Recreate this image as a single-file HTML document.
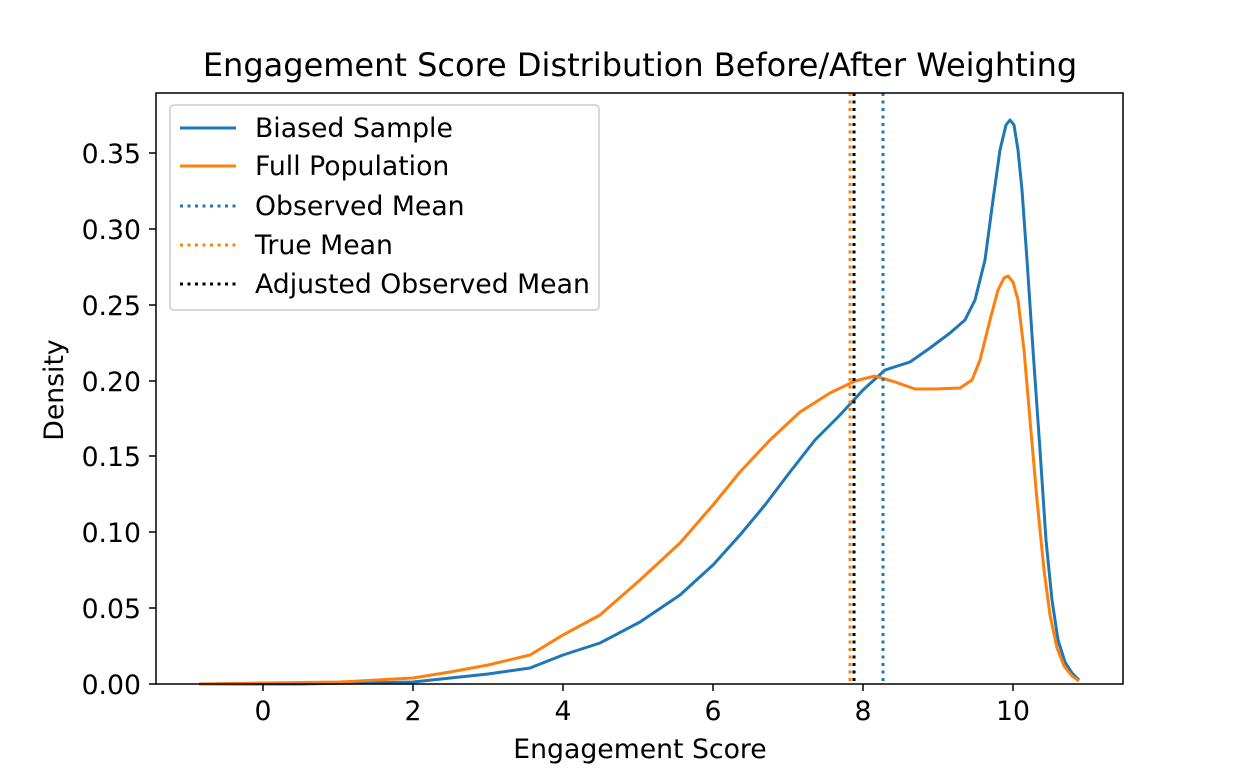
<!DOCTYPE html>
<html><head><meta charset="utf-8"><style>
body{margin:0;background:#fff;}
text{font-family:"DejaVu Sans","Liberation Sans",sans-serif;fill:#000;}
</style></head><body>
<svg width="1248" height="768" viewBox="0 0 1248 768" xmlns="http://www.w3.org/2000/svg">
<rect width="1248" height="768" fill="#fff"/>
<text x="640" y="76" font-size="32" text-anchor="middle">Engagement Score Distribution Before/After Weighting</text>
<g fill="none" stroke-width="3" stroke-linejoin="round">
<polyline stroke="#1f77b4" points="199,684 300,684 413,682 488,674 530,668 563,655 600,643 640,622 680,595 713,565 740,535 765,505 790,472 815,440 840,415 863,390 885,370 910,362 930,348 950,333 965,320 975,300 985,260 993,200 1000,150 1006,125 1010,120 1014,125 1018,150 1022,190 1027,260 1033,350 1040,450 1046,540 1052,600 1058,640 1065,662 1072,673 1079,680"/>
<polyline stroke="#ff7f0e" points="199,684 263,683 340,682 413,678 450,672 488,665 530,655 563,635 600,615 640,580 680,543 713,505 740,472 770,440 800,412 830,393 855,381 875,376 895,382 915,389 935,389 960,388 972,380 980,360 990,320 998,290 1004,278 1008,276 1013,282 1018,300 1024,350 1030,420 1037,500 1044,570 1050,615 1057,648 1064,666 1072,676 1079,681"/>
</g>
<g stroke-width="3" stroke-dasharray="3,4.5">
<line x1="883" y1="93" x2="883" y2="684" stroke="#1f77b4"/>
<line x1="850" y1="93" x2="850" y2="684" stroke="#ff7f0e"/>
<line x1="854" y1="93" x2="854" y2="684" stroke="#000"/>
</g>
<rect x="156" y="93" width="967" height="591" fill="none" stroke="#000" stroke-width="1.5"/>
<g stroke="#000" stroke-width="1.5">
<line x1="263" y1="684" x2="263" y2="691"/><line x1="413" y1="684" x2="413" y2="691"/><line x1="563" y1="684" x2="563" y2="691"/><line x1="713" y1="684" x2="713" y2="691"/><line x1="863" y1="684" x2="863" y2="691"/><line x1="1013" y1="684" x2="1013" y2="691"/>
<line x1="149" y1="684" x2="156" y2="684"/><line x1="149" y1="608" x2="156" y2="608"/><line x1="149" y1="532" x2="156" y2="532"/><line x1="149" y1="456" x2="156" y2="456"/><line x1="149" y1="381" x2="156" y2="381"/><line x1="149" y1="305" x2="156" y2="305"/><line x1="149" y1="229" x2="156" y2="229"/><line x1="149" y1="153" x2="156" y2="153"/>
</g>
<g font-size="26.7" text-anchor="middle">
<text x="263" y="720">0</text><text x="413" y="720">2</text><text x="563" y="720">4</text><text x="713" y="720">6</text><text x="863" y="720">8</text><text x="1013" y="720">10</text>
</g>
<g font-size="26.7" text-anchor="end">
<text x="141" y="694">0.00</text><text x="141" y="618">0.05</text><text x="141" y="542">0.10</text><text x="141" y="466">0.15</text><text x="141" y="391">0.20</text><text x="141" y="315">0.25</text><text x="141" y="239">0.30</text><text x="141" y="163">0.35</text>
</g>
<text x="640" y="758" font-size="26.7" text-anchor="middle">Engagement Score</text>
<text transform="translate(63,390) rotate(-90)" font-size="26.7" text-anchor="middle">Density</text>
<rect x="170" y="105" width="429" height="205" rx="4" fill="#fff" fill-opacity="0.8" stroke="#ccc" stroke-width="1.5"/>
<g stroke-width="3">
<line x1="180" y1="128" x2="236" y2="128" stroke="#1f77b4"/>
<line x1="180" y1="166" x2="236" y2="166" stroke="#ff7f0e"/>
<line x1="180" y1="206" x2="236" y2="206" stroke="#1f77b4" stroke-dasharray="3,4.5"/>
<line x1="180" y1="245" x2="236" y2="245" stroke="#ff7f0e" stroke-dasharray="3,4.5"/>
<line x1="180" y1="284" x2="236" y2="284" stroke="#000" stroke-dasharray="3,4.5"/>
</g>
<g font-size="26.7">
<text x="255" y="137">Biased Sample</text>
<text x="255" y="175">Full Population</text>
<text x="255" y="215">Observed Mean</text>
<text x="255" y="254">True Mean</text>
<text x="255" y="293">Adjusted Observed Mean</text>
</g>
</svg>
</body></html>
